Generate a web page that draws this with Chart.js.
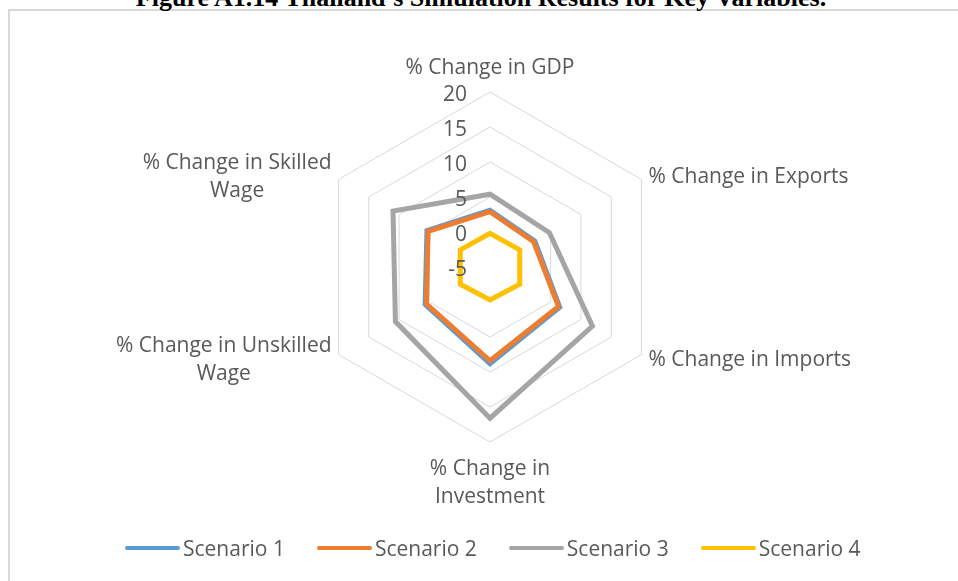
<!DOCTYPE html>
<html>
<head>
<meta charset="utf-8">
<script src="https://cdn.jsdelivr.net/npm/chart.js@4"></script>
<style>
html,body{margin:0;padding:0;background:#fff;overflow:hidden;width:958px;height:581px;}
#frame{position:absolute;left:8px;top:9px;width:1000px;height:700px;border:2px solid #d9d9d9;box-sizing:border-box;}
#title{position:absolute;left:0;top:-15px;width:962px;text-align:center;font:bold 26px/26px "Liberation Serif","Times New Roman",serif;color:#000;white-space:nowrap;}
#wrap{position:absolute;left:0;top:0;width:958px;height:581px;}
#legend{position:absolute;left:125px;top:536px;display:flex;align-items:center;font:21px/24px "Open Sans",sans-serif;color:#595959;white-space:nowrap;}
.item{display:flex;align-items:center;margin-right:32px;}
.swatch{display:inline-block;width:55px;height:4px;border-radius:2px;margin-right:3px;}
</style>
</head>
<body>
<div id="frame"></div>
<div id="title">Figure A1.14 Thailand’s Simulation Results for Key Variables.</div>
<div id="wrap"><canvas id="c" width="958" height="581"></canvas></div>
<div id="legend"></div>
<script>
// ---- data ----
const categories = [
  '% Change in GDP',
  '% Change in Exports',
  '% Change in Imports',
  ['% Change in', 'Investment'],
  ['% Change in Unskilled', 'Wage'],
  ['% Change in Skilled', 'Wage']
];
const seriesNames = ['Scenario 1', 'Scenario 2', 'Scenario 3', 'Scenario 4'];
const scenario1 = [3.1, 2.4, 6.5, 8.8, 5.7, 5.4];
const scenario2 = [2.9, 2.2, 6.3, 8.4, 5.5, 5.2];
const scenario3 = [5.4, 4.8, 11.9, 16.6, 10.6, 11.0];
const scenario4 = [-0.2, -0.1, -0.1, -0.3, -0.1, -0.1];
const tickValues = [-5, 0, 5, 10, 15, 20];

const colors = ['#5B9BD5', '#ED7D31', '#A5A5A5', '#FFC000'];
const drawOrder = [1, 0, 2, 3];
const textColor = '#595959';
const fontSize = 21;
const lineH = 28;
const fontFamily = '"Open Sans", sans-serif';

const labelPlugin = {
  id: 'excelLabels',
  afterDraw(chart) {
    const s = chart.scales.r, ctx = chart.ctx;
    ctx.save();
    ctx.fillStyle = textColor;
    ctx.font = fontSize + 'px ' + fontFamily;
    ctx.textBaseline = 'alphabetic';
    ctx.textAlign = 'right';
    s.ticks.forEach(t => {
      const y = s.yCenter - s.getDistanceFromCenterForValue(t.value);
      ctx.fillText(String(t.value), s.xCenter - 23, y + 9);
    });
    ctx.textAlign = 'center';
    chart.data.labels.forEach((lab, i) => {
      const lines = Array.isArray(lab) ? lab : [lab];
      const p = s.getPointPosition(i, s.drawingArea + 8);
      const bw = Math.max(...lines.map(l => ctx.measureText(l).width));
      const bh = lines.length * lineH;
      const dx = p.x - s.xCenter, dy = p.y - s.yCenter;
      let cx, top;
      if (Math.abs(dx) < 1) cx = p.x;
      else if (dx > 0) cx = p.x + bw / 2;
      else cx = p.x - bw / 2;
      if (Math.abs(dx) < 1 && dy < 0) top = p.y - 4 - bh;
      else if (Math.abs(dx) < 1) top = p.y + 3;
      else top = p.y - bh / 2;
      lines.forEach((l, k) => ctx.fillText(l, cx, top + k * lineH + lineH / 2 + 7.5));
    });
    ctx.restore();
  }
};

const seriesData = [scenario1, scenario2, scenario3, scenario4];
const chart = new Chart(document.getElementById('c'), {
  type: 'radar',
  data: {
    labels: categories,
    datasets: seriesData.map((d, i) => ({
      label: seriesNames[i],
      data: d,
      borderColor: colors[i],
      backgroundColor: colors[i],
      order: drawOrder[i],
      fill: false
    }))
  },
  options: {
    responsive: false,
    animation: false,
    devicePixelRatio: 1,
    layout: { padding: { top: 92, bottom: 139, left: 140, right: 118 } },
    plugins: { legend: { display: false }, tooltip: { enabled: false } },
    elements: {
      point: { radius: 0, hoverRadius: 0, hitRadius: 0 },
      line: { borderWidth: 5, tension: 0, borderJoinStyle: 'miter' }
    },
    scales: {
      r: {
        min: tickValues[0],
        max: tickValues[tickValues.length - 1],
        ticks: { stepSize: 5, display: false },
        grid: { color: '#D9D9D9', lineWidth: 1 },
        angleLines: { display: false },
        pointLabels: { display: false }
      }
    }
  },
  plugins: [labelPlugin]
});

// HTML legend built from the chart's own legend items
function buildLegend() {
  const items = Chart.defaults.plugins.legend.labels.generateLabels(chart)
    .sort((a, b) => a.datasetIndex - b.datasetIndex);
  const box = document.getElementById('legend');
  box.innerHTML = '';
  items.forEach(it => {
    const d = document.createElement('div');
    d.className = 'item';
    const sw = document.createElement('span');
    sw.className = 'swatch';
    sw.style.background = it.strokeStyle;
    const tx = document.createElement('span');
    tx.textContent = it.text;
    d.appendChild(sw); d.appendChild(tx);
    box.appendChild(d);
  });
}
buildLegend();
if (document.fonts && document.fonts.ready) document.fonts.ready.then(() => chart.update('none'));
</script>
</body>
</html>
